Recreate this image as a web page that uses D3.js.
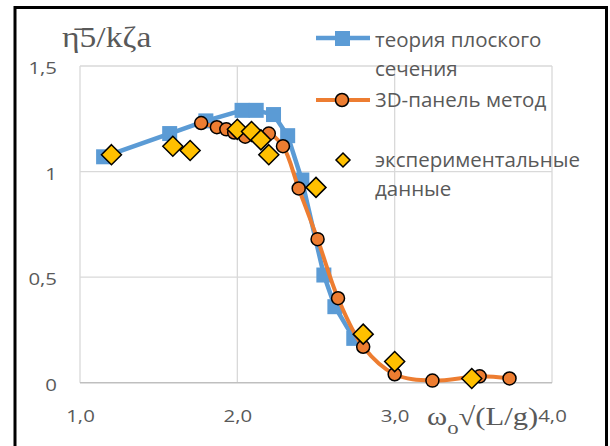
<!DOCTYPE html>
<html>
<head>
<meta charset="utf-8">
<script src="https://cdn.jsdelivr.net/npm/d3@7"></script>
<style>
  html, body { margin: 0; padding: 0; background: #fff; }
  svg { display: block; }
  .tick text { font-family: "Open Sans", sans-serif; fill: #595959; }
</style>
</head>
<body>
<svg id="chart" width="610" height="446"></svg>
<script>
// Plane-section theory
const theoryX = [1.15, 1.57, 1.80, 2.03, 2.12, 2.23, 2.32, 2.41, 2.55, 2.62, 2.74];
const theoryY = [1.07, 1.18, 1.24, 1.29, 1.29, 1.27, 1.17, 0.96, 0.51, 0.36, 0.21];

// 3D panel method
const panelX = [1.77, 1.87, 1.93, 1.98, 2.05, 2.20, 2.29, 2.39, 2.51, 2.64, 2.80, 3.00, 3.24, 3.54, 3.73];
const panelY = [1.23, 1.21, 1.20, 1.185, 1.165, 1.18, 1.12, 0.92, 0.68, 0.40, 0.17, 0.04, 0.01, 0.03, 0.02];

// Experimental data
const expX = [1.20, 1.59, 1.70, 2.00, 2.09, 2.15, 2.20, 2.50, 2.80, 3.00, 3.49];
const expY = [1.08, 1.12, 1.10, 1.20, 1.19, 1.15, 1.08, 0.925, 0.23, 0.10, 0.02];

const xTicks = [1, 2, 3, 4];
const yTicks = [0, 0.5, 1, 1.5];

const legendLabels = [
  ["теория плоского", "сечения"],
  ["3D-панель метод"],
  ["экспериментальные", "данные"]
];

const BLUE = "#5b9bd5", ORANGE = "#ed7d31", YELLOW = "#ffc000", GRID = "#d9d9d9", TEXT = "#595959";
const WIDEN = 1.2; // horizontal stretch of axis lettering

const svg = d3.select("#chart");
const loc = d3.formatLocale({decimal: ",", thousands: " ", grouping: [3], currency: ["", ""]});

const x = d3.scaleLinear().domain([1, 4]).range([80, 552]);
const y = d3.scaleLinear().domain([0, 1.5]).range([382.7, 66]);

// frame
svg.append("rect")
  .attr("x", 15).attr("y", 7.5).attr("width", 591.5).attr("height", 470)
  .attr("fill", "none").attr("stroke", "#000").attr("stroke-width", 3);

// gridlines
svg.append("g").selectAll("line").data(xTicks).join("line")
  .attr("x1", d => x(d)).attr("x2", d => x(d))
  .attr("y1", y(1.5)).attr("y2", y(0))
  .attr("stroke", GRID).attr("stroke-width", 1.3);
svg.append("g").selectAll("line").data(yTicks.filter(d => d > 0)).join("line")
  .attr("x1", x(1)).attr("x2", x(4))
  .attr("y1", d => y(d)).attr("y2", d => y(d))
  .attr("stroke", GRID).attr("stroke-width", 1.3);
svg.append("line")
  .attr("x1", x(1)).attr("x2", x(4)).attr("y1", y(0)).attr("y2", y(0))
  .attr("stroke", "#bfbfbf").attr("stroke-width", 1.5);

// axes
const yAxis = svg.append("g").attr("transform", `translate(${x(1) - 23},0)`)
  .call(d3.axisLeft(y).tickValues(yTicks).tickSize(0).tickPadding(0)
    .tickFormat(d => loc.format("")(d)));
const xAxis = svg.append("g").attr("transform", `translate(0,${y(0) + 24})`)
  .call(d3.axisBottom(x).tickValues(xTicks).tickSize(0).tickPadding(0)
    .tickFormat(loc.format(".1f")));
[yAxis, xAxis].forEach(g => {
  g.select(".domain").remove();
  g.selectAll(".tick text").attr("font-size", 17).attr("fill", TEXT)
    .attr("transform", `scale(${WIDEN},1)`);
});
yAxis.selectAll(".tick text").attr("dy", "0.44em");
xAxis.selectAll(".tick text").attr("dy", "0.88em");

// axis titles
svg.append("text")
  .attr("transform", `translate(62,47) scale(1.12,1)`)
  .attr("font-family", "'Liberation Serif', serif").attr("font-size", 30).attr("fill", TEXT)
  .text("η\u03045/kζa");
const xt = svg.append("text")
  .attr("transform", `translate(427,425) scale(${WIDEN},1)`)
  .attr("font-family", "'Liberation Serif', serif").attr("font-size", 25.5).attr("fill", TEXT);
xt.append("tspan").text("ω");
xt.append("tspan").attr("dy", 9).attr("font-size", 19).text("o");
xt.append("tspan").attr("dy", -9).text("√(L/g)");

// series: plane-section theory
const straight = d3.line().x(d => x(d[0])).y(d => y(d[1]));
const theory = d3.zip(theoryX, theoryY);
svg.append("path").datum(theory).attr("d", straight)
  .attr("fill", "none").attr("stroke", BLUE).attr("stroke-width", 4.5).attr("stroke-linejoin", "round");
svg.append("g").selectAll("rect").data(theory).join("rect")
  .attr("x", d => x(d[0]) - 7.5).attr("y", d => y(d[1]) - 7.5)
  .attr("width", 15).attr("height", 15).attr("fill", BLUE);

// series: 3D panel method (smoothed)
const smooth = d3.line().x(d => x(d[0])).y(d => y(d[1])).curve(d3.curveCatmullRom.alpha(0.5));
const panel = d3.zip(panelX, panelY);
svg.append("path").datum(panel).attr("d", smooth)
  .attr("fill", "none").attr("stroke", ORANGE).attr("stroke-width", 4);
svg.append("g").selectAll("circle").data(panel).join("circle")
  .attr("cx", d => x(d[0])).attr("cy", d => y(d[1])).attr("r", 6.5)
  .attr("fill", ORANGE).attr("stroke", "#000").attr("stroke-width", 1.5);

// series: experiment
const diamond = (cx, cy, h) => `M${cx},${cy - h}L${cx + h},${cy}L${cx},${cy + h}L${cx - h},${cy}Z`;
const exp = d3.zip(expX, expY);
svg.append("g").selectAll("path").data(exp).join("path")
  .attr("d", d => diamond(x(d[0]), y(d[1]), 10))
  .attr("fill", YELLOW).attr("stroke", "#000").attr("stroke-width", 1.5);

// legend
const lg = svg.append("g").attr("font-family", "'Open Sans', sans-serif").attr("font-size", 20.5).attr("fill", TEXT);
lg.append("line").attr("x1", 316).attr("x2", 370).attr("y1", 38).attr("y2", 38)
  .attr("stroke", BLUE).attr("stroke-width", 4.5);
lg.append("rect").attr("x", 335).attr("y", 31).attr("width", 15).attr("height", 15).attr("fill", BLUE);
lg.append("line").attr("x1", 316).attr("x2", 370).attr("y1", 100).attr("y2", 100)
  .attr("stroke", ORANGE).attr("stroke-width", 4);
lg.append("circle").attr("cx", 342).attr("cy", 100).attr("r", 6.5)
  .attr("fill", ORANGE).attr("stroke", "#000").attr("stroke-width", 1.5);
lg.append("path").attr("d", diamond(343, 160, 7))
  .attr("fill", YELLOW).attr("stroke", "#000").attr("stroke-width", 1.5);
const baselines = [[47, 76], [107], [167, 196]];
legendLabels.forEach((lines, i) => {
  lines.forEach((t, j) => {
    lg.append("text").attr("x", 375).attr("y", baselines[i][j]).text(t);
  });
});
</script>
</body>
</html>
